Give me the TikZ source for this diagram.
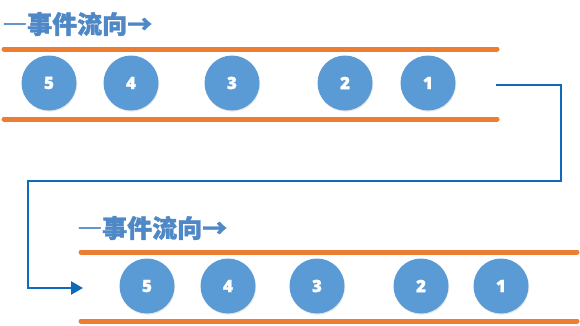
\documentclass[tikz,border=0pt]{standalone}
\usepackage{fontspec}
\newfontfamily\cjk[FakeBold=1.4]{Noto Sans CJK SC Bold}
\newfontfamily\numfont[FakeBold=1.2]{Open Sans Bold}
\usetikzlibrary{arrows.meta,shadows}
\definecolor{bleuEvt}{RGB}{91,155,213}
\definecolor{bleuTitre}{RGB}{79,136,198}
\definecolor{bleuFlux}{RGB}{16,106,186}
\definecolor{orangeBord}{RGB}{237,125,49}

\begin{document}
\begin{tikzpicture}[x=1pt, y=-1pt,
    evt/.style={circle, fill=bleuEvt, minimum size=55pt, inner sep=0pt, text=white,
        font=\numfont\bfseries\fontsize{17}{17}\selectfont,
        drop shadow={opacity=0.18, shadow xshift=0.6pt, shadow yshift=-1.2pt}},
    bord/.style={draw=orangeBord, line width=5pt, line cap=round},
    titre/.style={anchor=west, inner sep=0pt, text=bleuTitre, font=\cjk\bfseries\fontsize{25}{25}\selectfont},
    flux/.style={draw=bleuFlux, line width=2.4pt, -{Triangle[length=12pt,width=13pt]}}
]
\useasboundingbox (0,0) rectangle (580,325);

% file du haut
\node[titre] (titreA) at (2,24) {―事件流向→};
\draw[bord] (4,49) -- (497,49);
\draw[bord] (4,119) -- (497,119);
\node[evt] (a5) at (49,83) {5};
\node[evt] (a4) at (131,83) {4};
\node[evt] (a3) at (232,83) {3};
\node[evt] (a2) at (345,83) {2};
\node[evt] (a1) at (428,83) {1};

% file du bas
\node[titre] (titreB) at (77,228) {―事件流向→};
\draw[bord] (81,252) -- (577,252);
\draw[bord] (81,321) -- (577,321);
\node[evt] (b5) at (147,286) {5};
\node[evt] (b4) at (228,286) {4};
\node[evt] (b3) at (317,286) {3};
\node[evt] (b2) at (421,286) {2};
\node[evt] (b1) at (501,286) {1};

% passage d'une file a l'autre
\coordinate (sortie) at (496,85);
\coordinate (coin) at (561,181);
\coordinate (entree) at (83,288);
\draw[flux, line join=miter] (sortie) -| (coin) -- (28,181) |- (entree);
\end{tikzpicture}
\end{document}
